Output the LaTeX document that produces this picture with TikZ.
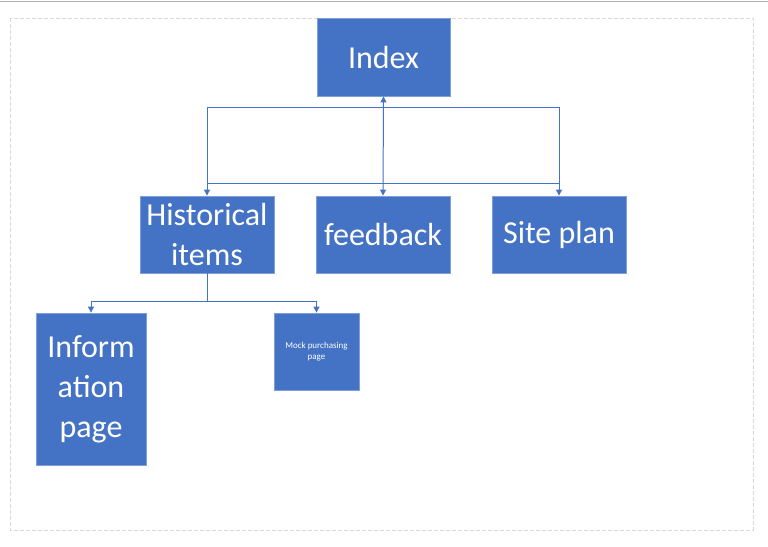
\documentclass[tikz,border=0pt]{standalone}
\usepackage{fontspec}
\setmainfont{Carlito}
\usetikzlibrary{arrows.meta}
\definecolor{boxblue}{HTML}{4472C4}
\definecolor{boxedge}{HTML}{7F9FD8}
\definecolor{pageedge}{HTML}{D9D9D9}
\begin{document}
\begin{tikzpicture}[x=1pt,y=-1pt,
  box/.style={draw=boxedge,line width=0.8pt,fill=boxblue,text=white,inner sep=0pt,align=center,font=\fontsize{32}{40}\selectfont},
  conn/.style={draw=boxblue,line width=1pt},
  tip/.style={-{Triangle[width=6pt,length=6pt]}}]
\useasboundingbox (0,0) rectangle (768,546);
\fill[white] (0,0) rectangle (768,546);
\draw[color=black!30,line width=1.5pt] (0,1.5) -- (768,1.5);
\draw[pageedge,dashed,dash pattern=on 4pt off 2pt,line width=0.8pt] (10,18) rectangle (753,530);
\node[box,minimum width=133pt,minimum height=78pt] (index) at (383.5,57) {Index};
\node[box,minimum width=134pt,minimum height=77pt] (hist) at (207,234.5) {Historical\\items};
\node[box,minimum width=134pt,minimum height=77pt] (feed) at (383,234.5) {feedback};
\node[box,minimum width=134pt,minimum height=77pt] (site) at (559,234.5) {Site plan};
\node[box,minimum width=110pt,minimum height=152pt] (info) at (91,389) {Inform\\ation\\page};
\node[box,minimum width=85pt,minimum height=77pt,font=\fontsize{9}{11}\selectfont] (mock) at (316.5,351.5) {Mock purchasing\\page};
\coordinate (hl) at (207,107);
\coordinate (hr) at (559,107);
\coordinate (ll) at (207,183);
\coordinate (lr) at (559,183);
\draw[conn] (hl) -- (hr);
\draw[conn] (ll) -- (lr);
\draw[conn] (hl) -- (ll);
\draw[conn] (hr) -- (lr);
\draw[conn,tip] (ll) -- (hist.north);
\draw[conn,tip] (lr) -- (site.north);
\draw[conn,{Triangle[width=6pt,length=6pt]}-{Triangle[width=6pt,length=6pt]}] (index.south) -- (feed.north);
\coordinate (hb) at (207,301);
\draw[conn] (hist.south) -- (hb);
\draw[conn,tip] (hb) -| (info.north);
\draw[conn,tip] (hb) -| (mock.north);
\end{tikzpicture}
\end{document}
